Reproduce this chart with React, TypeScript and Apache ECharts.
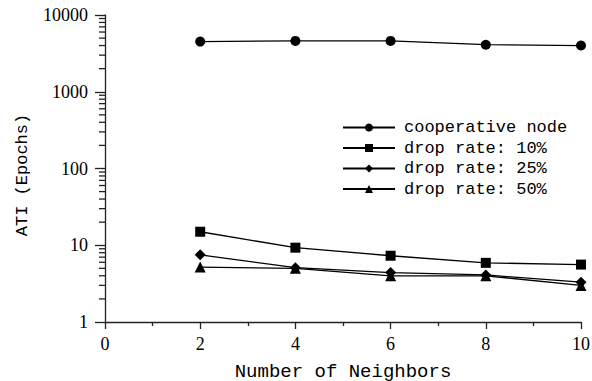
import React, { useEffect, useRef } from "react";
import * as echarts from "echarts";

const neighbors = [2, 4, 6, 8, 10];
const cooperativeNode = [4500, 4600, 4600, 4100, 4000];
const drop10 = [15, 9.3, 7.3, 5.9, 5.6];
const drop25 = [7.5, 5.1, 4.4, 4.1, 3.3];
const drop50 = [5.2, 5.0, 4.0, 4.0, 3.0];
const seriesNames = ["cooperative node", "drop rate: 10%", "drop rate: 25%", "drop rate: 50%"];
const seriesSymbols = ["circle", "rect", "diamond", "triangle"];
const seriesSizes = [10, 10, 11, 11];

// log-axis minor tick positions (2..9 within each decade)
const minorLogTicks: number[] = [];
for (const decade of [1, 10, 100, 1000]) {
  for (let m = 2; m <= 9; m++) minorLogTicks.push(m * decade);
}

const mono = "Liberation Mono";
const serif = "Liberation Serif";

export default function App() {
  const ref = useRef<HTMLDivElement>(null);

  useEffect(() => {
    if (!ref.current) return;
    const chart = echarts.init(ref.current, null, { renderer: "svg" });
    const allData = [cooperativeNode, drop10, drop25, drop50];

    const lineSeries = allData.map((vals, i) => ({
      name: seriesNames[i],
      type: "line",
      data: neighbors.map((n, j) => [n, vals[j]]),
      symbol: seriesSymbols[i],
      symbolSize: seriesSizes[i],
      lineStyle: { color: "#000", width: 1.3 },
      itemStyle: { color: "#000" },
      z: 3,
    }));

    chart.setOption({
      animation: false,
      backgroundColor: "#fff",
      textStyle: { fontFamily: serif },
      grid: { left: 105, right: 11, top: 15, bottom: 59, outerBoundsMode: "none", containLabel: false },
      legend: {
        data: seriesNames,
        orient: "vertical",
        left: 342,
        top: 119,
        padding: 0,
        itemWidth: 52,
        itemHeight: 10,
        itemGap: 3.5,
        textStyle: { fontFamily: mono, fontSize: 17, color: "#000", padding: [0, 0, 0, 4] },
      },
      xAxis: {
        type: "value",
        min: 0,
        max: 10,
        interval: 2,
        name: "Number of Neighbors",
        nameLocation: "middle",
        nameGap: 40,
        nameTextStyle: { fontFamily: mono, fontSize: 19, color: "#000" },
        axisLine: { lineStyle: { color: "#222", width: 1.3 } },
        axisTick: { length: 7, lineStyle: { color: "#222", width: 1.3 } },
        minorTick: { show: true, splitNumber: 2, length: 4, lineStyle: { color: "#222", width: 1.3 } },
        axisLabel: { fontFamily: serif, fontSize: 18, color: "#000", margin: 13 },
        splitLine: { show: false },
      },
      yAxis: {
        type: "log",
        logBase: 10,
        min: 1,
        max: 10000,
        name: "ATI (Epochs)",
        nameLocation: "middle",
        nameGap: 74,
        nameTextStyle: { fontFamily: mono, fontSize: 17, color: "#000", padding: [0, 13, 0, 0] },
        axisLine: { lineStyle: { color: "#222", width: 1.3 } },
        axisTick: { length: 10, lineStyle: { color: "#222", width: 1.3 } },
        axisLabel: {
          fontFamily: serif,
          fontSize: 18,
          color: "#000",
          margin: 17,
          formatter: (v: number) => String(Math.round(v)),
        },
        splitLine: { show: false },
      },
      series: [
        ...lineSeries,
        {
          type: "custom",
          name: "minorTicks",
          silent: true,
          clip: false,
          data: minorLogTicks.map((v) => [0, v]),
          renderItem: (_params: any, api: any) => {
            const p = api.coord([0, api.value(1)]);
            return {
              type: "line",
              shape: { x1: p[0] - 6, y1: p[1], x2: p[0], y2: p[1] },
              style: { stroke: "#222", lineWidth: 1.3 },
            };
          },
          z: 1,
        },
      ],
    });

    return () => chart.dispose();
  }, []);

  return <div ref={ref} style={{ width: 592, height: 381, position: "absolute", left: 0, top: 0 }} />;
}
